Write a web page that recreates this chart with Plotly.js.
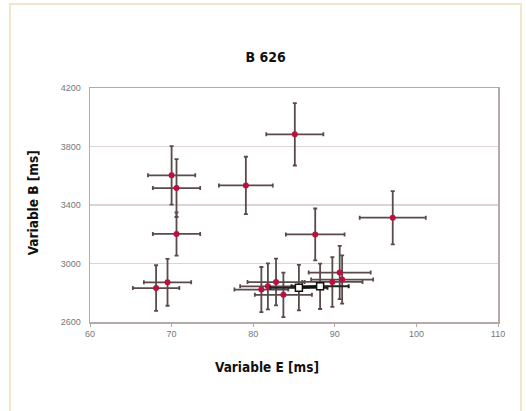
<!DOCTYPE html>
<html>
<head>
<meta charset="utf-8">
<script src="https://cdn.plot.ly/plotly-3.0.1.min.js"></script>
<style>
  html, body { margin:0; padding:0; background:#ffffff; width:526px; height:411px; overflow:hidden; }
  #frame { position:absolute; left:9px; top:3px; width:509px; height:430px;
           border-left:2px solid #f2e5ca; border-top:2px solid #f2e5ca; border-right:2px solid #f2e5ca; }
  #chart { position:absolute; left:0; top:0; width:526px; height:411px; }
</style>
</head>
<body>
<div id="frame"></div>
<div id="chart"></div>
<script>
// Red points: Variable E (x), Variable B (y), with error bars
const varE = [85.1, 79.1, 70.0, 70.6, 70.6, 68.1, 69.5, 97.1, 87.6, 81.0, 81.8, 82.8, 83.7, 89.7, 90.6, 90.9];
const varB = [3883, 3534, 3603, 3516, 3202, 2832, 2871, 3313, 3199, 2822, 2844, 2873, 2786, 2874, 2938, 2890];
const errE = [3.5, 3.3, 2.9, 2.9, 2.9, 2.85, 2.9, 4.05, 3.6, 3.3, 3.4, 3.5, 3.5, 3.7, 3.8, 3.8];
const errB = [213, 196, 200, 198, 148, 156, 160, 182, 177, 154, 157, 160, 152, 170, 182, 165];

// White squares (mean values), connected by a line
const meanE = [85.6, 88.2];
const meanB = [2835, 2844];
const meanErrE = [3.5, 3.5];
const meanErrB = [155, 155];

const xTicks = [60, 70, 80, 90, 100, 110];
const yTicks = [2600, 3000, 3400, 3800, 4200];

const titleFont = "'Liberation Sans Narrow', 'DejaVu Sans Condensed', 'Roboto', sans-serif";
const barColor = '#5a4a4a';

const traces = [
  {
    type: 'scatter', mode: 'markers',
    x: varE, y: varB,
    marker: { color: '#bb1040', size: 6, symbol: 'circle' },
    error_x: { type: 'data', array: errE, visible: true, color: barColor, thickness: 1.8, width: 2 },
    error_y: { type: 'data', array: errB, visible: true, color: barColor, thickness: 1.8, width: 2 },
    hoverinfo: 'x+y'
  },
  {
    type: 'scatter', mode: 'lines+markers',
    x: meanE, y: meanB,
    line: { color: '#111111', width: 2.5 },
    marker: { color: '#ffffff', size: 7, symbol: 'square', line: { color: '#111111', width: 1.5 } },
    error_x: { type: 'data', array: meanErrE, visible: true, color: '#222222', thickness: 2, width: 2 },
    error_y: { type: 'data', array: meanErrB, visible: true, color: barColor, thickness: 1.8, width: 2 },
    hoverinfo: 'x+y'
  }
];

const layout = {
  width: 526, height: 411,
  margin: { l: 90, r: 28, t: 88, b: 89, pad: 0 },
  paper_bgcolor: 'rgba(0,0,0,0)',
  plot_bgcolor: '#ffffff',
  showlegend: false,
  title: {
    text: '<b>B 626</b>',
    font: { family: titleFont, size: 14, color: '#111111' },
    xref: 'container', x: 0.505, xanchor: 'center',
    yref: 'container', y: 1 - 57/411, yanchor: 'middle'
  },
  xaxis: {
    range: [60, 110], tickvals: xTicks, ticktext: xTicks.map(String),
    showgrid: false, zeroline: false,
    showline: true, linecolor: '#b3aaaa', linewidth: 1.5, mirror: true,
    ticks: 'outside', ticklen: 3, tickcolor: '#b3aaaa',
    tickfont: { family: "'Liberation Sans', sans-serif", size: 9, color: '#777777' }
  },
  yaxis: {
    range: [2600, 4200], tickvals: yTicks, ticktext: yTicks.map(String),
    showgrid: true, gridcolor: '#dcd4d4', gridwidth: 1.5, zeroline: false,
    showline: true, linecolor: '#b3aaaa', linewidth: 1.5, mirror: true,
    ticks: '', ticklabelstandoff: 6,
    tickfont: { family: "'Liberation Sans', sans-serif", size: 9, color: '#777777' }
  },
  annotations: [
    {
      text: '<b>Variable E [ms]</b>', xref: 'paper', yref: 'paper',
      x: (267 - 90) / 408, y: -(367 - 321.7) / 234, xanchor: 'center', yanchor: 'middle',
      showarrow: false, font: { family: titleFont, size: 13.5, color: '#111111' }
    },
    {
      text: '<b>Variable B [ms]</b>', xref: 'paper', yref: 'paper',
      x: (33 - 90) / 408, y: (321.7 - 203) / 234, xanchor: 'center', yanchor: 'middle',
      textangle: -90,
      showarrow: false, font: { family: titleFont, size: 13.5, color: '#111111' }
    }
  ]
};

Plotly.newPlot('chart', traces, layout, { displayModeBar: false, staticPlot: true });
</script>
</body>
</html>
